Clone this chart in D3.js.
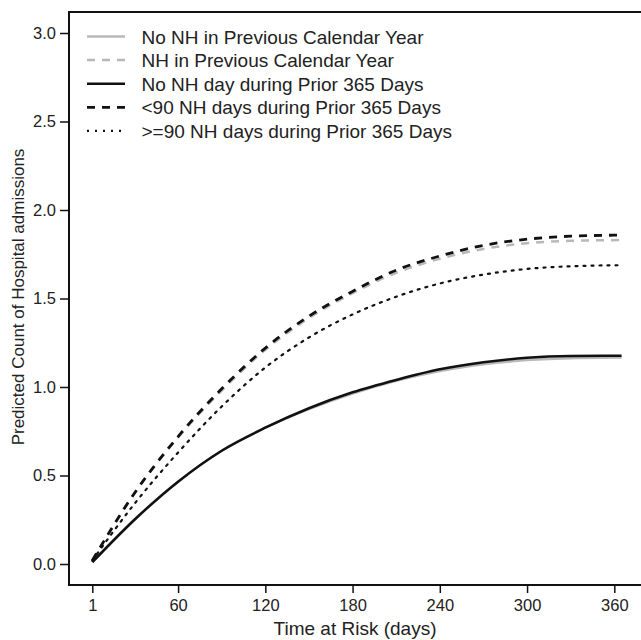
<!DOCTYPE html>
<html>
<head>
<meta charset="utf-8">
<script src="https://cdn.jsdelivr.net/npm/d3@7"></script>
<style>
  body { margin: 0; background: #fff; }
  svg { display: block; font-family: 'Liberation Sans', Arial, sans-serif; }
  .axis text { font-size: 16.5px; fill: #222; }
  .axis line { stroke: #111; stroke-width: 1.5; }
  .legend text { font-size: 19px; fill: #222; }
</style>
</head>
<body>
<svg id="chart" width="641" height="640"></svg>
<script>
//data
var days = [1, 30, 60, 90, 120, 150, 180, 210, 240, 270, 300, 330, 365];
var noNhPrevYear  = [0.01, 0.25, 0.465, 0.64, 0.77, 0.875, 0.963, 1.035, 1.09, 1.128, 1.152, 1.163, 1.166];
var nhPrevYear    = [0.02, 0.40, 0.715, 0.98, 1.21, 1.39, 1.53, 1.645, 1.725, 1.78, 1.812, 1.826, 1.83];
var noNhDay365    = [0.01, 0.25, 0.465, 0.64, 0.77, 0.88, 0.97, 1.04, 1.10, 1.14, 1.165, 1.175, 1.177];
var lt90NhDays    = [0.02, 0.40, 0.72, 0.99, 1.22, 1.40, 1.54, 1.66, 1.74, 1.80, 1.835, 1.852, 1.858];
var ge90NhDays    = [0.02, 0.34, 0.63, 0.89, 1.11, 1.28, 1.41, 1.51, 1.585, 1.635, 1.667, 1.682, 1.688];
var xTicks = [1, 60, 120, 180, 240, 300, 360];
var yTicks = [0, 0.5, 1.0, 1.5, 2.0, 2.5, 3.0];

var series = [
  {name: 'No NH in Previous Calendar Year', values: noNhPrevYear, color: '#b8b8b8', dash: null, width: 2.5},
  {name: 'NH in Previous Calendar Year', values: nhPrevYear, color: '#b8b8b8', dash: '8,7', width: 2.5},
  {name: 'No NH day during Prior 365 Days', values: noNhDay365, color: '#111', dash: null, width: 2.5},
  {name: '<90 NH days during Prior 365 Days', values: lt90NhDays, color: '#111', dash: '8,7', width: 2.8},
  {name: '>=90 NH days during Prior 365 Days', values: ge90NhDays, color: '#111', dash: '2,6', width: 2.2}
];

//chart parameters
var svg = d3.select('#chart');
var frame = {left: 69, top: 12, bottom: 585, right: 645};

//define scales
var xScale = d3.scaleLinear().domain([1, 360]).range([92.3, 614.3]),
    yScale = d3.scaleLinear().domain([0, 3]).range([564, 33]);

//frame
svg.append('path')
  .attr('d', 'M' + frame.right + ',' + frame.top + 'H' + frame.left + 'V' + frame.bottom + 'H' + frame.right)
  .attr('fill', 'none')
  .attr('stroke', '#111')
  .attr('stroke-width', 2);

//x axis
var xAxis = svg.append('g')
  .attr('class', 'axis')
  .attr('transform', 'translate(0,' + frame.bottom + ')')
  .call(d3.axisBottom(xScale).tickValues(xTicks).tickSize(8).tickPadding(6).tickFormat(d3.format('d')));
xAxis.select('.domain').remove();

//y axis
var yAxis = svg.append('g')
  .attr('class', 'axis')
  .attr('transform', 'translate(' + frame.left + ',0)')
  .call(d3.axisLeft(yScale).tickValues(yTicks).tickSize(9).tickPadding(4).tickFormat(d3.format('.1f')));
yAxis.select('.domain').remove();

//axis titles
svg.append('text')
  .attr('x', 355).attr('y', 635)
  .attr('text-anchor', 'middle')
  .style('font-size', '19px').style('fill', '#222')
  .text('Time at Risk (days)');

svg.append('text')
  .attr('transform', 'translate(24,297) rotate(-90)')
  .attr('text-anchor', 'middle')
  .style('font-size', '17px').style('fill', '#222')
  .text('Predicted Count of Hospital admissions');

//lines
var line = d3.line()
  .x((d, i) => xScale(days[i]))
  .y(d => yScale(d))
  .curve(d3.curveMonotoneX);

svg.selectAll('.series').data(series)
  .enter().append('path')
    .attr('class', 'series')
    .attr('d', d => line(d.values))
    .attr('fill', 'none')
    .attr('stroke', d => d.color)
    .attr('stroke-width', d => d.width)
    .attr('stroke-dasharray', d => d.dash)
    .attr('stroke-linecap', d => d.dash === '2,6' ? 'round' : 'butt');

//legend
var legend = svg.append('g').attr('class', 'legend');
var row = legend.selectAll('g').data(series)
  .enter().append('g')
    .attr('transform', (d, i) => 'translate(0,' + (36.5 + i * 23.6) + ')');
row.append('line')
  .attr('x1', 87).attr('x2', 125)
  .attr('stroke', d => d.color)
  .attr('stroke-width', d => d.width)
  .attr('stroke-dasharray', d => d.dash);
row.append('text')
  .attr('x', 141.5).attr('y', 7)
  .text(d => d.name);
</script>
</body>
</html>
